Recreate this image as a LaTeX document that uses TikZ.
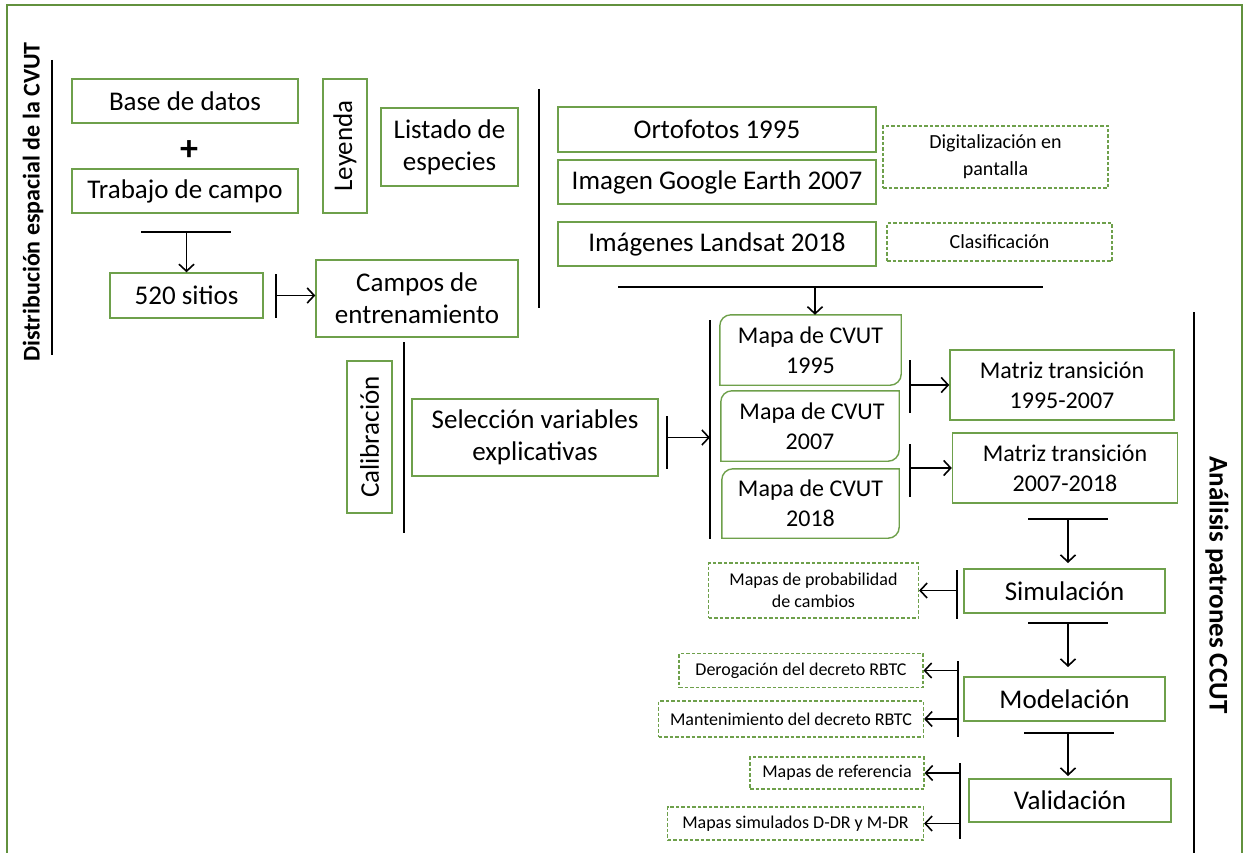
\documentclass[tikz,border=0pt]{standalone}
\usepackage{fontspec}
\setmainfont{Carlito}
\usetikzlibrary{arrows.meta,positioning}
\definecolor{verde}{RGB}{110,160,75}
\definecolor{marco}{RGB}{98,145,62}
\tikzset{
    %Flecha estandar
    >={Straight Barb[length=7pt, width=15pt, line width=1.6pt]},
    caja/.style={
      rectangle,
      draw=verde, line width=1.4pt,
      inner sep=0pt,
      align=center,
      font=\fontsize{27}{32}\selectfont},
    cajita/.style={
      caja,
      font=\fontsize{24}{30}\selectfont},
    mapa/.style={
      rectangle,
      inner sep=0pt,
      align=center,
      font=\fontsize{24}{30}\selectfont},
    nota/.style={
      rectangle,
      draw=verde, line width=1.1pt, dash pattern=on 3.5pt off 2pt,
      inner sep=0pt,
      align=center,
      font=\fontsize{18}{22}\selectfont},
    dim/.style 2 args={minimum width=#1pt, minimum height=#2pt},
    raya/.style={draw=black, line width=1.9pt},
    flecha/.style={draw=black, line width=1.7pt, ->},
}
% caja con dos esquinas redondeadas
\newcommand\esquinas[1]{%
  \draw[verde, line width=1.4pt] ([xshift=11pt]#1.north west) -- (#1.north east)
    -- ([yshift=11pt]#1.south east) arc[start angle=0, end angle=-90, radius=11pt]
    -- (#1.south west) -- ([yshift=-11pt]#1.north west)
    arc[start angle=180, end angle=90, radius=11pt] -- cycle;}

\begin{document}
\begin{tikzpicture}[x=1pt, y=-1pt]
    \useasboundingbox (0,0) rectangle (1244,853);
    % marco
    \draw[marco, line width=2.6pt] (7,870) -- (7,5) -- (1242,5) -- (1242,870);

    % Distribucion espacial
    \node (tit1) [rotate=90, font=\bfseries\fontsize{24}{28}\selectfont] at (33,202)
          {Distribución espacial de la CVUT};
    \coordinate (t1a) at (52,60);
    \coordinate (t1b) at (52,355);
    \draw[raya] (t1a) -- (t1b);

    \node (bd) [caja, dim={226}{44}] at (185,101) {Base de datos};
    \node (mas) [font=\bfseries\fontsize{36}{36}\selectfont] at (189,151) {+};
    \node (tc) [caja, dim={226}{44}] at (185,191) {Trabajo de campo};
    \node (ley) [caja, dim={134}{44}, rotate=90] at (345,146) {Leyenda};
    \node (le) [caja, dim={137}{78}] at (449.5,147) {Listado de\\especies};

    \coordinate (u1a) at (141,232);
    \coordinate (u1b) at (231,232);
    \draw[raya] (u1a) -- (u1b);
    \node (sitios) [caja, dim={153}{45}] at (186.5,295.5) {520 sitios};
    \draw[flecha] (sitios.north |- u1a) -- (sitios.north);

    \node (campos) [caja, dim={202}{77}] at (417,298.5) {Campos de\\entrenamiento};
    \coordinate (b1a) at (276,274);
    \coordinate (b1b) at (276,318);
    \draw[raya] (b1a) -- (b1b);
    \draw[flecha] (b1a |- sitios) -- (campos.west |- sitios);

    % Imagenes
    \coordinate (v1a) at (539,89);
    \coordinate (v1b) at (539,308);
    \draw[raya] (v1a) -- (v1b);
    \node (orto) [caja, dim={318}{45}] at (717,129.5) {Ortofotos 1995};
    \node (ge) [caja, dim={318}{44}] at (717,182) {Imagen Google Earth 2007};
    \node (land) [caja, dim={318}{44}] at (717,244) {Imágenes Landsat 2018};
    \node (dig) [nota, dim={225}{62}, font=\fontsize{20}{27}\selectfont] at (995.5,157)
          {Digitalización en\\pantalla};
    \node (clas) [nota, dim={225}{38}, font=\fontsize{20}{24}\selectfont] at (999.5,242)
          {Clasificación};

    \coordinate (u2a) at (618,287);
    \coordinate (u2b) at (1043,287);
    \draw[raya] (u2a) -- (u2b);

    % Calibracion
    \coordinate (v2a) at (404,342);
    \coordinate (v2b) at (404,533);
    \draw[raya] (v2a) -- (v2b);
    \node (cal) [caja, dim={152}{45}, rotate=90] at (369.5,437) {Calibración};
    \node (sel) [caja, dim={246}{77}] at (535,437.5) {Selección variables\\explicativas};
    \coordinate (b2a) at (667,416);
    \coordinate (b2b) at (667,469);
    \draw[raya] (b2a) -- (b2b);

    % Mapas
    \coordinate (v3a) at (710,320);
    \coordinate (v3b) at (710,539);
    \draw[raya] (v3a) -- (v3b);
    \draw[flecha] (b2a |- sel) -- (v3a |- sel);
    \node (m1) [mapa, dim={181}{70}] at (810.5,350) {Mapa de CVUT\\1995};
    \node (m2) [mapa, dim={178}{70}] at (810,426) {\,Mapa de CVUT\\2007};
    \node (m3) [mapa, dim={177}{69}] at (810.5,503.5) {Mapa de CVUT\\2018};
    \esquinas{m1}
    \esquinas{m2}
    \esquinas{m3}
    \draw[flecha] (m1.north -| 815,0) ++(0,-28) -- (m1.north -| 815,0);

    % Matrices
    \node (mt1) [cajita, dim={224}{70}] at (1062,385) {Matriz transición\\1995-2007};
    \node (mt2) [cajita, dim={225}{70}] at (1065,468) {Matriz transición\\2007-2018};
    \coordinate (b3a) at (910,360);
    \coordinate (b3b) at (910,413);
    \draw[raya] (b3a) -- (b3b);
    \draw[flecha] (b3a |- mt1) -- (mt1.west);
    \coordinate (b4a) at (910,444);
    \coordinate (b4b) at (910,497);
    \draw[raya] (b4a) -- (b4b);
    \draw[flecha] (b4a |- mt2) -- (mt2.west);

    % Simulacion
    \coordinate (u3a) at (1028,519);
    \coordinate (u3b) at (1108,519);
    \draw[raya] (u3a) -- (u3b);
    \node (sim) [caja, dim={201}{44}] at (1064.5,591) {Simulación};
    \draw[flecha] (1068,519) -- (1068,563);
    \node (prob) [nota, dim={210}{55}] at (813.5,590.5) {Mapas de probabilidad\\de cambios};
    \coordinate (b5a) at (957,570);
    \coordinate (b5b) at (957,619);
    \draw[raya] (b5a) -- (b5b);
    \draw[flecha] (b5a |- prob) -- (prob.east);

    % Modelacion
    \coordinate (u4a) at (1028,623);
    \coordinate (u4b) at (1108,623);
    \draw[raya] (u4a) -- (u4b);
    \node (mod) [caja, dim={201}{44}] at (1064.5,699) {Modelación};
    \draw[flecha] (1068,623) -- (1068,667);
    \node (der) [nota, dim={244}{34}] at (801,670.5) {Derogación del decreto RBTC};
    \node (man) [nota, dim={265}{36}] at (791,719) {Mantenimiento del decreto RBTC};
    \coordinate (b6a) at (958,661);
    \coordinate (b6b) at (958,737);
    \draw[raya] (b6a) -- (b6b);
    \draw[flecha] (b6a |- der) -- (der.east);
    \draw[flecha] (b6a |- man) -- (man.east);

    % Validacion
    \coordinate (u5a) at (1024,733);
    \coordinate (u5b) at (1114,733);
    \draw[raya] (u5a) -- (u5b);
    \node (val) [caja, dim={202}{43}] at (1070,800.5) {Validación};
    \draw[flecha] (1068,733) -- (1068,776);
    \node (ref) [nota, dim={174}{32}] at (837,773) {Mapas de referencia};
    \node (simd) [nota, dim={256}{33}] at (795.5,823.5) {Mapas simulados D-DR y M-DR};
    \coordinate (b7a) at (960,763);
    \coordinate (b7b) at (960,839);
    \draw[raya] (b7a) -- (b7b);
    \draw[flecha] (b7a |- ref) -- (ref.east);
    \draw[flecha] (b7a |- simd) -- (simd.east);

    % Analisis
    \coordinate (v4a) at (1194,312);
    \coordinate (v4b) at (1194,870);
    \draw[raya] (v4a) -- (v4b);
    \node (tit2) [rotate=-90, font=\bfseries\fontsize{27}{30}\selectfont] at (1217,585)
          {Análisis patrones CCUT};
  \end{tikzpicture}
\end{document}
